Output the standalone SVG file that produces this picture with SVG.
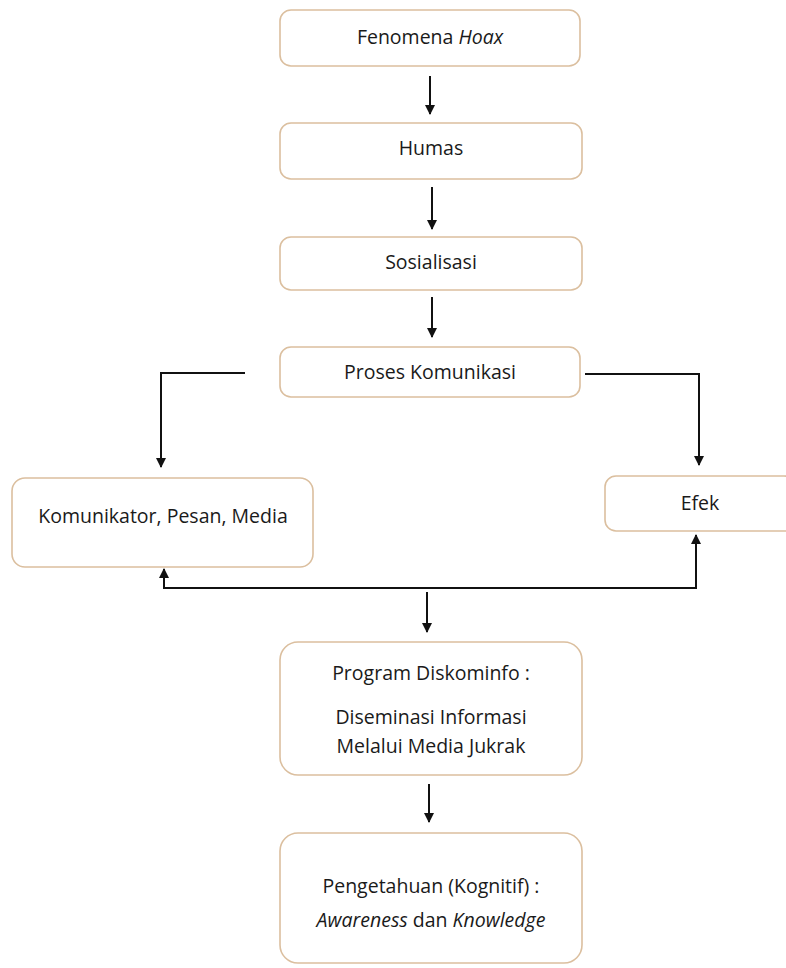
<svg xmlns="http://www.w3.org/2000/svg" width="786" height="968" viewBox="0 0 786 968">
<style>
.box{fill:#fff;stroke:#dbbf9f;stroke-width:1.6}
text{font-family:"Open Sans","Noto Sans",sans-serif;font-size:19.5px;fill:#1a1a1a;text-anchor:middle}
.it{font-style:italic}
.c{fill:none;stroke:#111;stroke-width:2}
</style>
<defs>
<marker id="ah" viewBox="0 0 10 10" refX="9" refY="5" markerWidth="10" markerHeight="10" markerUnits="userSpaceOnUse" orient="auto">
<path d="M0,0 L10,5 L0,10 Z" fill="#111"/>
</marker>
</defs>
<rect width="786" height="968" fill="#fff"/>
<g id="fenomena">
<rect class="box" x="280" y="10" width="300" height="56" rx="11"/>
<text x="430" y="44">Fenomena <tspan class="it">Hoax</tspan></text>
</g>
<g id="humas">
<rect class="box" x="280" y="123" width="302" height="56" rx="11"/>
<text x="431" y="155">Humas</text>
</g>
<g id="sosialisasi">
<rect class="box" x="280" y="237" width="302" height="53" rx="11"/>
<text x="431" y="269">Sosialisasi</text>
</g>
<g id="proses">
<rect class="box" x="280" y="347" width="300" height="50" rx="11"/>
<text x="430" y="379">Proses Komunikasi</text>
</g>
<g id="komunikator">
<rect class="box" x="12" y="478" width="301" height="89" rx="13"/>
<text x="163" y="523">Komunikator, Pesan, Media</text>
</g>
<g id="efek">
<rect class="box" x="605" y="476" width="190" height="55" rx="11"/>
<text x="700" y="510">Efek</text>
</g>
<g id="program">
<rect class="box" x="280" y="642" width="302" height="133" rx="18"/>
<text x="431" y="680">Program Diskominfo :</text>
<text x="431" y="724">Diseminasi Informasi</text>
<text x="431" y="753">Melalui Media Jukrak</text>
</g>
<g id="pengetahuan">
<rect class="box" x="280" y="833" width="302" height="130" rx="18"/>
<text x="431" y="893">Pengetahuan (Kognitif) :</text>
<text x="431" y="927"><tspan class="it">Awareness</tspan> dan <tspan class="it">Knowledge</tspan></text>
</g>
<g id="connectors">
<path class="c" d="M430,76 V114" marker-end="url(#ah)"/>
<path class="c" d="M432,187 V229" marker-end="url(#ah)"/>
<path class="c" d="M432,297 V337" marker-end="url(#ah)"/>
<path class="c" d="M245,373 H161 V467" marker-end="url(#ah)"/>
<path class="c" d="M585,374 H699 V465" marker-end="url(#ah)"/>
<path class="c" d="M164,588 H696 V535" marker-end="url(#ah)"/>
<path class="c" d="M164,589 V569" marker-end="url(#ah)"/>
<path class="c" d="M427,592 V632" marker-end="url(#ah)"/>
<path class="c" d="M429,784 V822" marker-end="url(#ah)"/>
</g>
</svg>
